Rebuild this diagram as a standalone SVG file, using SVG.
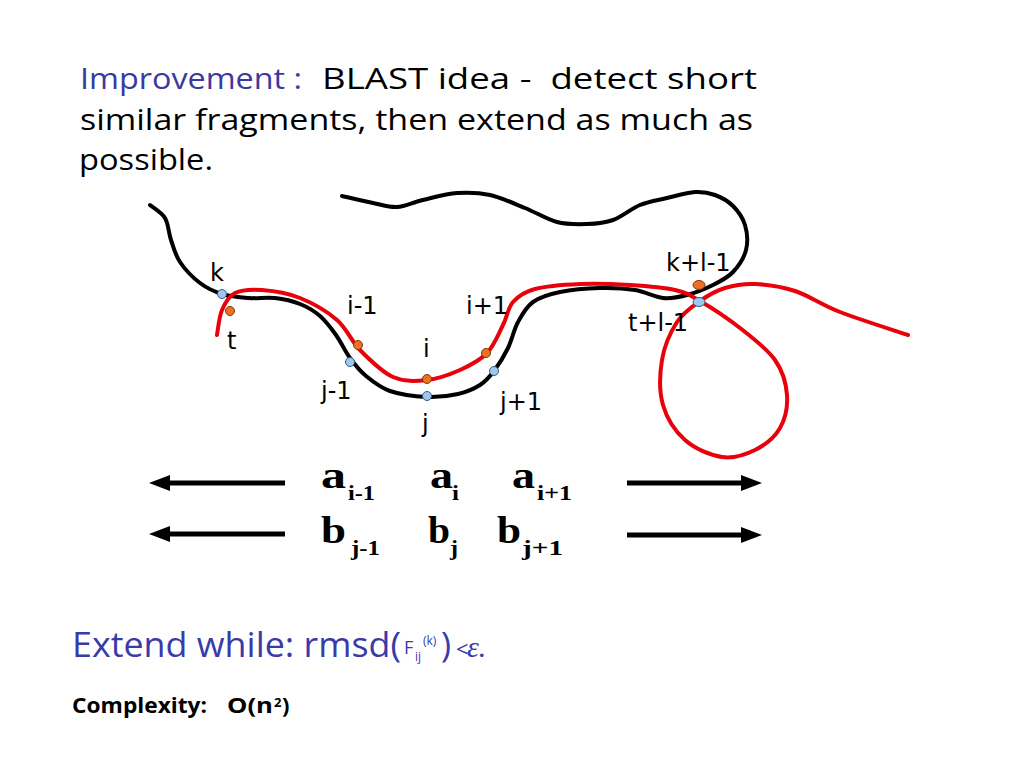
<svg xmlns="http://www.w3.org/2000/svg" width="1024" height="768" viewBox="0 0 1024 768">
<defs>
<style>
.title{font-family:"Open Sans","DejaVu Sans",sans-serif;font-size:30px;fill:#000}
.blue{fill:#3a3a9e}
.lbl{font-family:"DejaVu Sans","Liberation Sans",sans-serif;font-size:24px;fill:#000}
.big{font-family:"Liberation Serif","Times New Roman",serif;font-weight:bold;font-size:38px;fill:#000}
.sub{font-family:"Liberation Serif","Times New Roman",serif;font-weight:bold;font-size:22px;fill:#000}
.curve{fill:none;stroke-width:4;stroke-linecap:round;stroke-linejoin:round}
.od{fill:#ee7020;stroke:#7a3a10;stroke-width:1}
.bd{fill:#9cc8f0;stroke:#3a5a80;stroke-width:1}
.arr{stroke:#000;stroke-width:5;fill:none}
.ext{font-family:"Open Sans","DejaVu Sans",sans-serif;fill:#3a3aa8}
.cx{font-family:"Open Sans","DejaVu Sans",sans-serif;font-weight:bold;fill:#000}
</style>
</defs>
<rect width="1024" height="768" fill="#fff"/>

<g id="title">
<text class="title blue" x="80" y="89" textLength="222" lengthAdjust="spacingAndGlyphs">Improvement :</text>
<text class="title" x="322" y="89" textLength="435" lengthAdjust="spacingAndGlyphs" xml:space="preserve">BLAST idea -  detect short</text>
<text class="title" x="80" y="130" textLength="673" lengthAdjust="spacingAndGlyphs">similar fragments, then extend as much as</text>
<text class="title" x="79" y="170" textLength="134" lengthAdjust="spacingAndGlyphs">possible.</text>
</g>

<g id="chain-black">
<path class="curve" stroke="#000" d="M150,205 C152.5,207.2 161.5,212.2 165,218 C168.5,223.8 168.5,232.7 171,240 C173.5,247.3 175.2,254.8 180,262 C184.8,269.2 193,277.7 200,283 C207,288.3 214,291.5 222,294 C230,296.5 239.2,297.3 248,298 C256.8,298.7 266.3,297 275,298 C283.7,299 292.5,301 300,304 C307.5,307 314,310.8 320,316 C326,321.2 331,328 336,335 C341,342 345,351.2 350,358 C355,364.8 359.3,370.5 366,376 C372.7,381.5 379.8,387.5 390,391 C400.2,394.5 415.7,396.5 427,397 C438.3,397.5 449.2,396 458,394 C466.8,392 474,388.8 480,385 C486,381.2 489.3,377.2 494,371 C498.7,364.8 504,356.2 508,348 C512,339.8 513.8,329.7 518,322 C522.2,314.3 526,307 533,302 C540,297 548.8,294.3 560,292 C571.2,289.7 587.5,288.3 600,288 C612.5,287.7 624.5,288.3 635,290 C645.5,291.7 654.3,297.2 663,298 C671.7,298.8 678.7,297.2 687,295 C695.3,292.8 705.3,288.8 713,285 C720.7,281.2 727.5,277.8 733,272 C738.5,266.2 744,257.8 746,250 C748,242.2 747.2,232.3 745,225 C742.8,217.7 738,211 733,206 C728,201 721.3,197.3 715,195 C708.7,192.7 703,191.5 695,192 C687,192.5 676.2,195.8 667,198 C657.8,200.2 649,201.3 640,205 C631,208.7 621.8,216.8 613,220 C604.2,223.2 596.3,223.7 587,224 C577.7,224.3 567.3,224.7 557,222 C546.7,219.3 536.2,212.5 525,208 C513.8,203.5 501.3,197.5 490,195 C478.7,192.5 468.2,192.2 457,193 C445.8,193.8 433,197.7 423,200 C413,202.3 405.3,206.5 397,207 C388.7,207.5 382.2,204.8 373,203 C363.8,201.2 347.2,197.2 342,196"/>
</g>

<g id="chain-red">
<path class="curve" stroke="#e8000b" d="M217,335 C217.8,330.8 219,317 222,310 C225,303 228.3,296.3 235,293 C241.7,289.7 251.2,289.2 262,290 C272.8,290.8 287.5,293 300,298 C312.5,303 327,311.3 337,320 C347,328.7 350.7,340.5 360,350 C369.3,359.5 381.8,372 393,377 C404.2,382 415.8,381.2 427,380 C438.2,378.8 450,374.5 460,370 C470,365.5 479.8,360.5 487,353 C494.2,345.5 498.7,333.5 503,325 C507.3,316.5 507.7,308 513,302 C518.3,296 523.8,292 535,289 C546.2,286 564.2,284.7 580,284 C595.8,283.3 614.2,284 630,285 C645.8,286 663.3,287.3 675,290 C686.7,292.7 689.2,294.7 700,301 C710.8,307.3 727.5,318.2 740,328 C752.5,337.8 767.2,348.8 775,360 C782.8,371.2 786.2,383.7 787,395 C787.8,406.3 785.3,418.8 780,428 C774.7,437.2 764.7,445.2 755,450 C745.3,454.8 733.7,458.7 722,457 C710.3,455.3 694.8,448.7 685,440 C675.2,431.3 666.8,418.3 663,405 C659.2,391.7 659.7,373.8 662,360 C664.3,346.2 670.7,331.8 677,322 C683.3,312.2 692,306.7 700,301 C708,295.3 715.8,290.8 725,288 C734.2,285.2 743.3,283.5 755,284 C766.7,284.5 780.8,286.3 795,291 C809.2,295.7 821.2,304.7 840,312 C858.8,319.3 896.7,331.2 908,335"/>
</g>

<g id="point-k"><circle class="bd" cx="222" cy="294" r="4.5"/><text class="lbl" x="210" y="281">k</text></g>
<g id="point-t"><circle class="od" cx="230" cy="311" r="4.5"/><text class="lbl" x="227" y="349">t</text></g>
<g id="point-i-1"><circle class="od" cx="358" cy="345" r="4.5"/><text class="lbl" x="347" y="314">i-1</text></g>
<g id="point-j-1"><circle class="bd" cx="350" cy="362" r="4.5"/><text class="lbl" x="321" y="399">j-1</text></g>
<g id="point-i"><circle class="od" cx="427" cy="379" r="4.5"/><text class="lbl" x="423" y="357">i</text></g>
<g id="point-j"><circle class="bd" cx="427" cy="396" r="4.5"/><text class="lbl" x="422" y="432">j</text></g>
<g id="point-i+1"><circle class="od" cx="486" cy="353" r="4.5"/><text class="lbl" x="466" y="314">i+1</text></g>
<g id="point-j+1"><circle class="bd" cx="494" cy="371" r="4.5"/><text class="lbl" x="500" y="410">j+1</text></g>
<g id="point-k+l-1"><ellipse class="od" cx="699" cy="285" rx="6" ry="4.5"/><text class="lbl" x="666" y="271">k+l-1</text></g>
<g id="point-t+l-1"><ellipse class="bd" cx="699" cy="302" rx="6" ry="4.5"/><text class="lbl" x="628" y="331">t+l-1</text></g>

<g id="connectors">
<line class="arr" x1="285" y1="483" x2="165" y2="483"/>
<polygon points="149,483 170,475 170,491" fill="#000"/>
<line class="arr" x1="285" y1="534" x2="165" y2="534"/>
<polygon points="149,534 170,526 170,542" fill="#000"/>
<line class="arr" x1="627" y1="483" x2="746" y2="483"/>
<polygon points="762,483 741,475 741,491" fill="#000"/>
<line class="arr" x1="627" y1="535" x2="746" y2="535"/>
<polygon points="762,535 741,527 741,543" fill="#000"/>
</g>

<g id="seq-a">
<text class="big" x="321" y="488" textLength="25" lengthAdjust="spacingAndGlyphs">a</text><text class="sub" x="348" y="500" textLength="27" lengthAdjust="spacingAndGlyphs">i-1</text>
<text class="big" x="430" y="488" textLength="23" lengthAdjust="spacingAndGlyphs">a</text><text class="sub" x="452" y="500" textLength="7" lengthAdjust="spacingAndGlyphs">i</text>
<text class="big" x="512" y="488" textLength="23" lengthAdjust="spacingAndGlyphs">a</text><text class="sub" x="537" y="500" textLength="35" lengthAdjust="spacingAndGlyphs">i+1</text>
</g>
<g id="seq-b">
<text class="big" x="321" y="543" textLength="25" lengthAdjust="spacingAndGlyphs">b</text><text class="sub" x="351" y="555" textLength="29" lengthAdjust="spacingAndGlyphs">j-1</text>
<text class="big" x="428" y="543" textLength="22" lengthAdjust="spacingAndGlyphs">b</text><text class="sub" x="450" y="555" textLength="8" lengthAdjust="spacingAndGlyphs">j</text>
<text class="big" x="497" y="543" textLength="24" lengthAdjust="spacingAndGlyphs">b</text><text class="sub" x="522" y="555" textLength="41" lengthAdjust="spacingAndGlyphs">j+1</text>
</g>

<g id="extend">
<text class="ext" x="72" y="657" style="font-size:34px" textLength="329" lengthAdjust="spacingAndGlyphs">Extend while: rmsd(</text>
<text class="ext" x="404" y="654" style="font-size:18px">F</text>
<text class="ext" x="415" y="661" style="font-size:12px">ij</text>
<text class="ext" x="423" y="645" style="font-size:12px">(k)</text>
<text class="ext" x="441" y="657" style="font-size:34px">)</text>
<text class="ext" x="456" y="657" style="font-size:22px">&lt;</text>
<text x="467" y="657" font-family="Liberation Serif,serif" font-style="italic" font-size="30" fill="#3a3aa8">ε.</text>
</g>

<g id="complexity">
<text class="cx" x="72" y="713" style="font-size:22px" textLength="135" lengthAdjust="spacingAndGlyphs">Complexity:</text>
<text class="cx" x="227" y="713" style="font-size:22px" textLength="46" lengthAdjust="spacingAndGlyphs">O(n</text>
<text class="cx" x="274" y="707" style="font-size:13px">2</text>
<text class="cx" x="282" y="713" style="font-size:22px">)</text>
</g>
</svg>
